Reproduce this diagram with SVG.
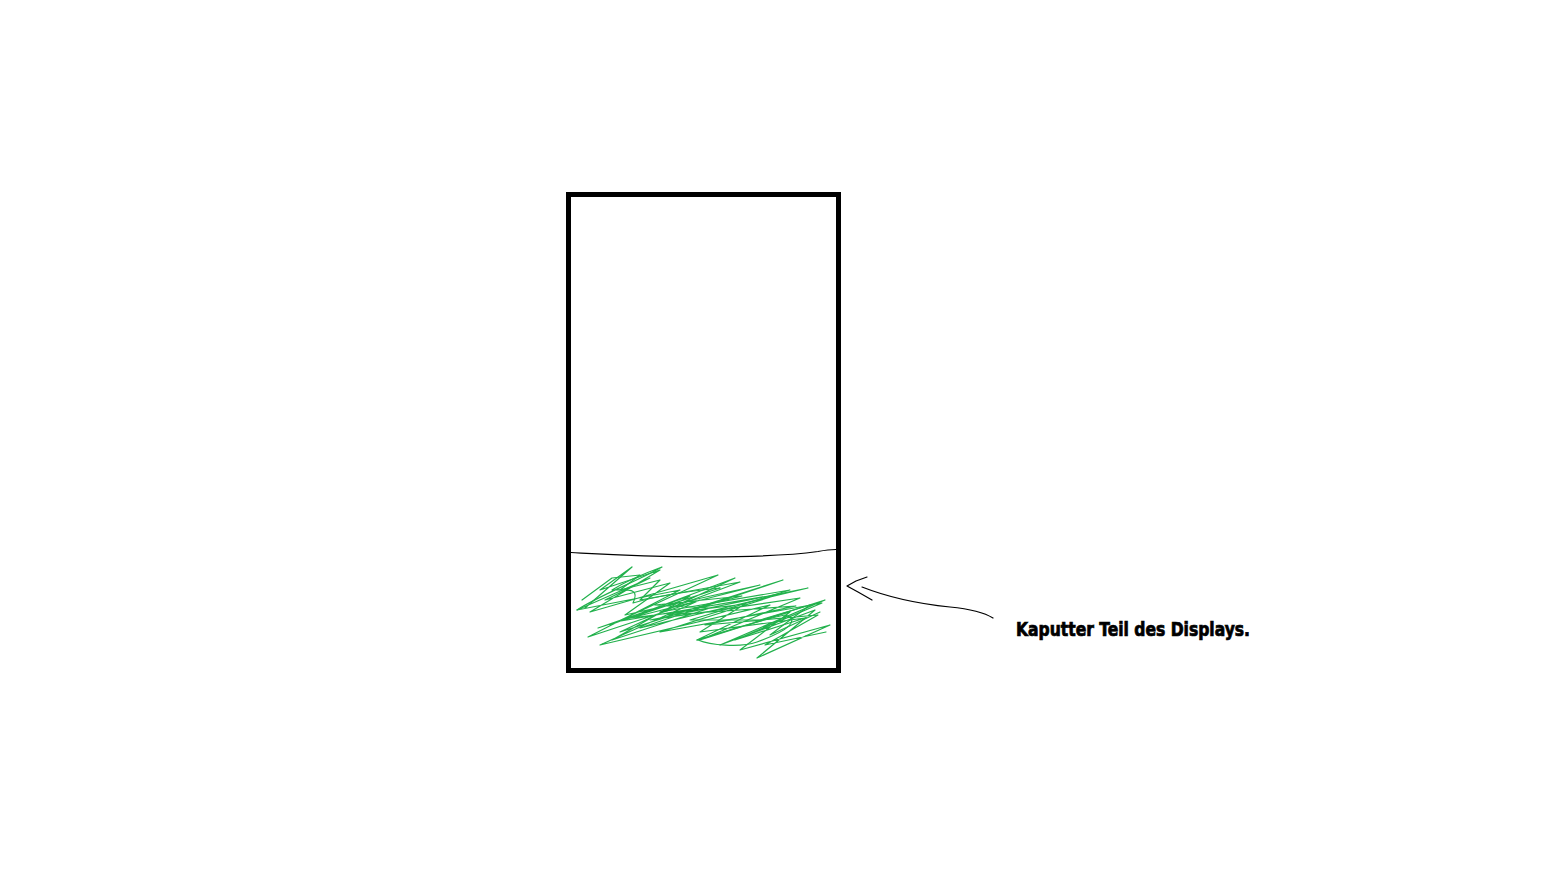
<svg xmlns="http://www.w3.org/2000/svg" width="1565" height="873" viewBox="0 0 1565 873">
<style>
.frame{fill:none;stroke:#000;stroke-width:5}
.thin{fill:none;stroke:#000;stroke-width:1.2;stroke-linejoin:round;stroke-linecap:round}
.scribble{fill:none;stroke:#22b14c;stroke-width:1.2;stroke-linejoin:round;stroke-linecap:round}
.label{font-family:"Liberation Sans Narrow","DejaVu Sans Condensed","Liberation Sans",sans-serif;font-weight:bold;font-size:19px;fill:#000;stroke:#000;stroke-width:0.7}
</style>
<rect width="1565" height="873" fill="#fff"/>
<g id="display">
<rect class="frame" x="568.5" y="194.5" width="270" height="476"/>
<path class="thin" d="M571 552.5 C 600 554, 640 556.5, 700 556.8 C 760 557, 800 554, 818 551.5 C 826 550, 830 549.5, 836 549.5"/>
</g>
<g id="broken-area">
<path class="scribble" d="M585 608 L632 567 L600 590 L660 570 L590 612 L718 575 L610 625 L735 578 L620 632 L783 580 L640 628 L808 588 L650 620 L800 598 L700 640 L825 600 L720 645 L815 610 L757 658 L830 625 L740 650 L790 612 L697 640 L770 605 L600 645 L700 600 L588 637 L680 590 L577 610 L650 578 L605 600 L670 583 L625 615 L760 585 L615 622 L780 594 L660 632 L822 603 L735 640 L805 618 L700 632 L745 604 L630 618 L720 588 L598 628 L690 596 L612 640 L710 608 L655 605 L742 596 L668 615 L796 606 L705 625 L818 615 L765 645 L826 632"/>
<path class="scribble" d="M582 600 L612 578 L640 575 L620 590 L660 580 L640 600 L740 582 L660 612 L790 590 L690 620 L760 620 L810 605 L770 635 L820 612"/>
<path class="scribble" d="M577 610 C 600 595, 640 580, 662 567 C 640 575, 620 585, 612 590 C 630 590, 640 588, 633 603 C 660 595, 700 590, 720 588"/>
<path class="scribble" d="M698 640 C 710 645, 740 648, 757 642 C 790 630, 800 620, 785 615 C 760 620, 730 630, 697 640"/>
</g>
<g id="connectors">
<path class="thin" d="M862 587 C 890 598, 920 604, 950 607 C 970 609, 985 613, 993 618"/>
<path class="thin" d="M867 577 L856 581 L847 586 L858 592 L872 600"/>
</g>
<g id="annotation">
<text class="label" x="1016" y="636" textLength="234" lengthAdjust="spacingAndGlyphs">Kaputter Teil des Displays.</text>
</g>
</svg>
